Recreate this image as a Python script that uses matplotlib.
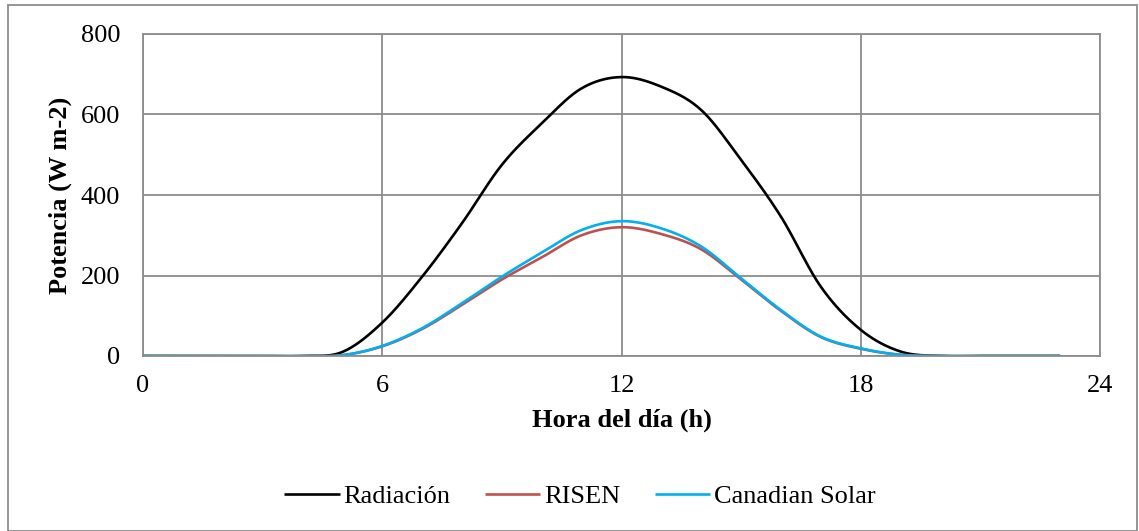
import numpy as np
import matplotlib.pyplot as plt
from matplotlib.patches import Rectangle

plt.rcParams['font.family'] = ['Liberation Serif', 'DejaVu Serif']

# horas del día y potencias medidas
horas = list(range(24))
radiacion = [0, 0, 0, 0, 0, 10, 83, 197, 330, 475, 578, 665,
             693, 669, 611, 487, 346, 172, 65, 11, 0, 0, 0, 0]
risen = [0, 0, 0, 0, 0, 2, 24, 67, 127, 190, 245, 300,
         320, 303, 265, 190, 112, 47, 18, 3, 0, 0, 0, 0]
canadian = [0, 0, 0, 0, 0, 2, 25, 69, 131, 197, 257, 313,
            335, 317, 272, 193, 114, 48, 19, 3, 0, 0, 0, 0]

series = [("Radiación", radiacion, "black"),
          ("RISEN", risen, "#C0504D"),
          ("Canadian Solar", canadian, "#00B0F0")]


def suavizar(x, y, n=30):
    # curva tipo "línea suavizada" (Bezier con tangentes Catmull-Rom)
    x = np.asarray(x, float)
    y = np.asarray(y, float)
    px = np.concatenate([[x[0]], x, [x[-1]]])
    py = np.concatenate([[y[0]], y, [y[-1]]])
    t = np.linspace(0, 1, n)
    xs, ys = [], []
    for i in range(len(x) - 1):
        p0 = np.array([px[i + 1], py[i + 1]])
        p3 = np.array([px[i + 2], py[i + 2]])
        p1 = p0 + (p3 - np.array([px[i], py[i]])) / 6
        p2 = p3 - (np.array([px[i + 3], py[i + 3]]) - p0) / 6
        b = ((1 - t) ** 3)[:, None] * p0 + (3 * (1 - t) ** 2 * t)[:, None] * p1 \
            + (3 * (1 - t) * t ** 2)[:, None] * p2 + (t ** 3)[:, None] * p3
        xs.append(b[:, 0])
        ys.append(b[:, 1])
    return np.concatenate(xs), np.concatenate(ys)


fig = plt.figure(figsize=(11.39, 5.31), dpi=100)
ax = fig.add_axes([143 / 1139, 1 - 356 / 531, (1100 - 143) / 1139, (356 - 34) / 531])

for nombre, valores, color in series:
    xs, ys = suavizar(horas, valores)
    ax.plot(xs, ys, color=color, lw=1.9, label=nombre, solid_capstyle='butt')

ax.set_xlim(0, 24)
ax.set_ylim(0, 800)
ax.set_xticks([0, 6, 12, 18, 24])
ax.set_yticks([0, 200, 400, 600, 800])
ax.grid(True, color='#8c8c8c', lw=1.3)
ax.set_axisbelow(True)
for s in ax.spines.values():
    s.set_color('#8c8c8c')
    s.set_linewidth(1.3)
ax.tick_params(length=0, labelsize=19)
ax.tick_params(axis='x', pad=14)
ax.tick_params(axis='y', pad=16.5)
ax.set_xlabel("Hora del día (h)", fontsize=19, fontweight='bold', labelpad=8)
ax.set_ylabel("Potencia (W m-2)", fontsize=19, fontweight='bold', labelpad=6)

fig.legend(loc='center', bbox_to_anchor=(580 / 1139, 1 - 496 / 531), ncol=3, frameon=False,
           fontsize=19, handlelength=2.1, handletextpad=0.15, columnspacing=1.3)

fig.patches.append(Rectangle((8 / 1139, 0.5 / 531), (1137 - 8) / 1139, (526 - 0.5) / 531,
                             transform=fig.transFigure, fill=False,
                             edgecolor='#8c8c8c', lw=1.3))

fig.savefig("out.png", dpi=100)
